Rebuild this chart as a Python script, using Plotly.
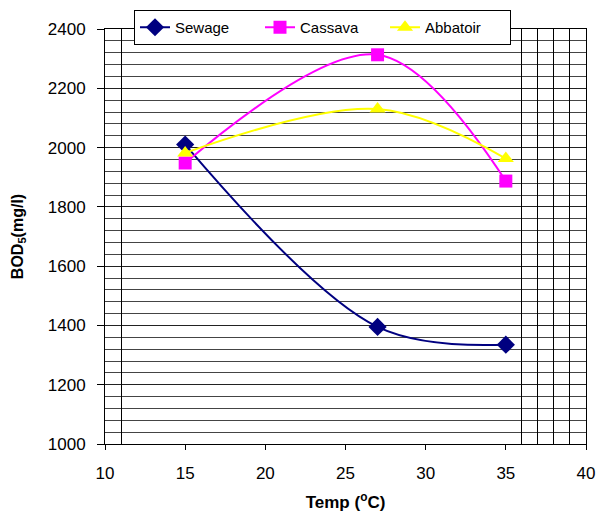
import plotly.graph_objects as go

temps = [15, 27, 35]
sewage = [2010, 1395, 1335]
cassava = [1948, 2313, 1887]
abbatoir = [1982, 2130, 1963]
x_ticks = [10, 15, 20, 25, 30, 35, 40]
y_ticks = [1000, 1200, 1400, 1600, 1800, 2000, 2200, 2400]
extra_vgrid = [11, 36, 37, 38, 39]

FONT = "Liberation Sans, Arial, sans-serif"

fig = go.Figure()
fig.add_trace(go.Scatter(x=temps, y=sewage, name="Sewage", mode="lines+markers",
                         line=dict(color="#000080", width=2, shape="spline", smoothing=1),
                         marker=dict(symbol="diamond", size=14, color="#000080")))
fig.add_trace(go.Scatter(x=temps, y=cassava, name="Cassava", mode="lines+markers",
                         line=dict(color="#FF00FF", width=2, shape="spline", smoothing=1),
                         marker=dict(symbol="square", size=13, color="#FF00FF")))
fig.add_trace(go.Scatter(x=temps, y=abbatoir, name="Abbatoir", mode="lines+markers",
                         line=dict(color="#FFFF00", width=2, shape="spline", smoothing=1),
                         marker=dict(symbol="triangle-up", size=14, color="#FFFF00")))
# invisible trace on secondary x axis to carry the extra vertical gridlines
fig.add_trace(go.Scatter(x=extra_vgrid, y=[None]*len(extra_vgrid), xaxis="x2",
                         showlegend=False, hoverinfo="skip"))

fig.update_layout(
    width=597, height=517,
    margin=dict(l=105, r=11, t=29, b=73, autoexpand=False),
    paper_bgcolor="white", plot_bgcolor="white",
    font=dict(family=FONT, color="black", size=17),
    showlegend=True,
    legend=dict(orientation="h", x=134/597, y=1-10/517, xanchor="left", yanchor="top",
                xref="container", yref="container",
                bgcolor="white", bordercolor="black", borderwidth=1,
                font=dict(size=15, family=FONT), itemwidth=30,
                entrywidth=80, entrywidthmode="pixels",
                tracegroupgap=0),
    xaxis=dict(range=[10, 40], tickvals=x_ticks, ticks="outside", ticklen=5,
               tickcolor="black", showline=True, linecolor="black", linewidth=1,
               mirror=True, showgrid=False, zeroline=False,
               tickfont=dict(size=17), ticklabelstandoff=9,
               title=dict(text="<b>Temp (<sup>o</sup>C)</b>", font=dict(size=17), standoff=13)),
    xaxis2=dict(range=[10, 40], overlaying="x", tickvals=extra_vgrid,
                showticklabels=False, ticks="", showgrid=True, gridcolor="black",
                gridwidth=1, zeroline=False, showline=False, side="bottom"),
    yaxis=dict(range=[1000, 2400], tickvals=y_ticks, ticks="outside", ticklen=7,
               tickcolor="black", showline=True, linecolor="black", linewidth=1,
               mirror=True, showgrid=True, gridcolor="#222", gridwidth=1,
               zeroline=False, tickfont=dict(size=17), ticklabelstandoff=8,
               minor=dict(dtick=40, showgrid=True, gridcolor="#444", gridwidth=1, ticks=""),
               title=dict(text="<b>BOD<sub>5</sub>(mg/l)</b>", font=dict(size=16), standoff=20)),
)

fig.write_html("out.html")
